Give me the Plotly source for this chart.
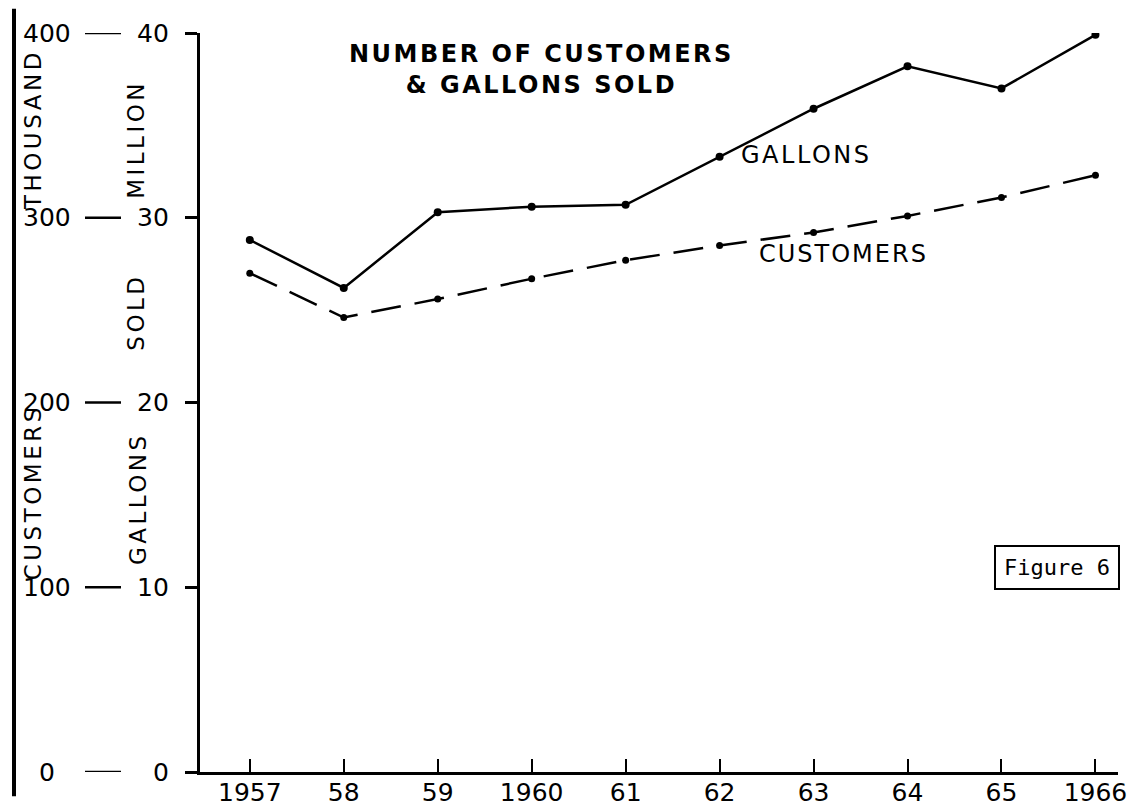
import plotly.graph_objects as go

# ---- data ----
years = [1957, 1958, 1959, 1960, 1961, 1962, 1963, 1964, 1965, 1966]
year_labels = ["1957", "58", "59", "1960", "61", "62", "63", "64", "65", "1966"]
gallons_million = [28.8, 26.2, 30.3, 30.6, 30.7, 33.3, 35.9, 38.2, 37.0, 39.9]
customers_thousand = [270, 246, 256, 267, 277, 285, 292, 301, 311, 323]
gallon_ticks = [0, 10, 20, 30, 40]
customer_ticks = [0, 100, 200, 300, 400]

W, H = 1139, 811
ML, MR, MT, MB = 192, 29, 25, 25
PW, PH = W - ML - MR, H - MT - MB

def px(xpix):
    return (xpix - ML) / PW

def py(ypix):
    return (H - MB - ypix) / PH

def spaced(txt, sp):
    return '<span style="letter-spacing:%spx">%s</span>' % (sp, txt)

FONT = "DejaVu Sans"
fig = go.Figure()

fig.add_trace(go.Scatter(
    x=years, y=gallons_million, mode="lines+markers", name="Gallons",
    line=dict(color="black", width=2.5),
    marker=dict(color="black", size=8), yaxis="y"))
fig.add_trace(go.Scatter(
    x=years, y=customers_thousand, mode="lines+markers", name="Customers",
    line=dict(color="black", width=2.5, dash="30px,14px"),
    marker=dict(color="black", size=7), yaxis="y2"))

annotations = []
shapes = []

# left scale labels
for g, c in zip(gallon_ticks, customer_ticks):
    annotations.append(dict(x=0, xref="paper", y=g, yref="y", text=str(g),
                            xanchor="right", yanchor="middle", xshift=-29,
                            showarrow=False,
                            font=dict(family=FONT, size=25, color="black")))
    annotations.append(dict(x=0, xref="paper", y=c, yref="y2", text=str(c),
                            xanchor="center", yanchor="middle", xshift=39 - ML,
                            showarrow=False,
                            font=dict(family=FONT, size=25, color="black")))
    shapes.append(dict(type="line", xref="paper", xsizemode="pixel", xanchor=0,
                       x0=77 - ML, x1=113 - ML, yref="y", y0=g, y1=g,
                       line=dict(color="black", width=2.5)))

# rotated axis captions
for txt, xp, yp in [("THOUSAND", 25, 125), ("CUSTOMERS", 25, 498),
                    ("MILLION", 128, 135), ("SOLD", 128, 313), ("GALLONS", 130, 505)]:
    annotations.append(dict(x=px(xp), xref="paper", y=py(yp), yref="paper",
                            text=spaced(txt, 3.5), textangle=-90, showarrow=False,
                            xanchor="center", yanchor="middle",
                            font=dict(family=FONT, size=23, color="black")))

# title
annotations.append(dict(x=px(533), xref="paper", y=py(63), yref="paper",
                        text=spaced("NUMBER OF CUSTOMERS", 2.5) + "<br>" +
                        spaced("& GALLONS SOLD", 2.5),
                        showarrow=False, xanchor="center", yanchor="middle",
                        font=dict(family=FONT, size=24, color="black", weight="bold")))
# series labels
annotations.append(dict(x=px(798), xref="paper", y=py(151), yref="paper",
                        text=spaced("GALLONS", 2.5), showarrow=False,
                        xanchor="center", yanchor="middle",
                        font=dict(family=FONT, size=24, color="black")))
annotations.append(dict(x=px(835), xref="paper", y=py(253), yref="paper",
                        text=spaced("CUSTOMERS", 2.0), showarrow=False,
                        xanchor="center", yanchor="middle",
                        font=dict(family=FONT, size=24, color="black")))
# figure box
annotations.append(dict(x=px(1049), xref="paper", y=py(575), yref="paper",
                        text="Figure 6", showarrow=False,
                        xanchor="center", yanchor="middle",
                        bordercolor="black", borderwidth=2, borderpad=8,
                        font=dict(family="DejaVu Sans Mono", size=22, color="black")))

# outer left rule
shapes.append(dict(type="line", xref="paper", x0=px(6), x1=px(6),
                   yref="paper", y0=py(H), y1=py(0),
                   line=dict(color="black", width=4)))

fig.update_layout(
    width=W, height=H, margin=dict(l=ML, r=MR, t=MT, b=MB),
    paper_bgcolor="white", plot_bgcolor="white", showlegend=False,
    xaxis=dict(range=[1956.47, 1966.24], tickmode="array", tickvals=years,
               ticktext=year_labels, ticks="inside", ticklen=13, tickwidth=2,
               tickcolor="black", showline=True, linecolor="black", linewidth=3,
               showgrid=False, zeroline=False, ticklabelstandoff=-4,
               tickfont=dict(family=FONT, size=25, color="black")),
    yaxis=dict(range=[0, 40], tickmode="array", tickvals=gallon_ticks,
               showticklabels=False, ticks="outside", ticklen=12, tickwidth=2.5,
               tickcolor="black", showline=True, linecolor="black", linewidth=3,
               showgrid=False, zeroline=False),
    yaxis2=dict(range=[0, 400], overlaying="y", visible=False),
    annotations=annotations, shapes=shapes,
)

fig.write_html("out.html")
